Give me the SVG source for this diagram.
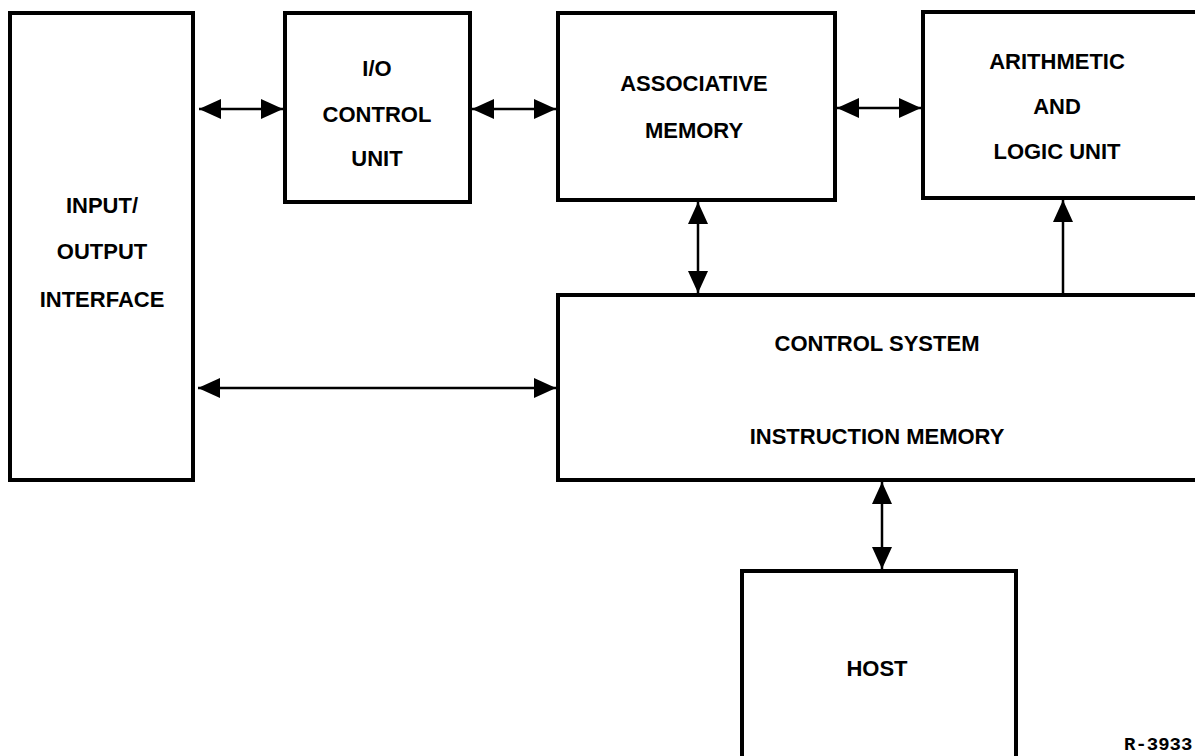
<svg xmlns="http://www.w3.org/2000/svg" width="1195" height="756" viewBox="0 0 1195 756">
  <defs>
    <marker id="head" viewBox="0 0 22 20" refX="22" refY="10" markerWidth="22" markerHeight="20" markerUnits="userSpaceOnUse" orient="auto-start-reverse">
      <path d="M0,0 L22,10 L0,20 Z" fill="#000"/>
    </marker>
    <style>
      .box { fill: #fff; stroke: #000; stroke-width: 4; }
      .lbl { font-family: "Liberation Sans", Arial, sans-serif; font-size: 22px; font-weight: bold; text-anchor: middle; fill: #000; }
      .wire { fill: none; stroke: #000; stroke-width: 2.5; }
      .both { marker-start: url(#head); marker-end: url(#head); }
      .one { marker-end: url(#head); }
      .ref { font-family: "Liberation Mono", "Courier New", monospace; font-size: 19px; font-weight: bold; fill: #000; }
    </style>
  </defs>
  <rect width="1195" height="756" fill="#fff"/>

  <g id="io-interface">
    <rect class="box" x="10" y="13" width="183" height="467"/>
    <text class="lbl" x="102" y="213">INPUT/</text>
    <text class="lbl" x="102" y="259">OUTPUT</text>
    <text class="lbl" x="102" y="307">INTERFACE</text>
  </g>

  <g id="io-control">
    <rect class="box" x="285" y="13" width="185" height="189"/>
    <text class="lbl" x="377" y="76">I/O</text>
    <text class="lbl" x="377" y="122">CONTROL</text>
    <text class="lbl" x="377" y="166">UNIT</text>
  </g>

  <g id="assoc-memory">
    <rect class="box" x="558" y="13" width="277" height="187"/>
    <text class="lbl" x="694" y="91">ASSOCIATIVE</text>
    <text class="lbl" x="694" y="138">MEMORY</text>
  </g>

  <g id="alu">
    <rect class="box" x="923" y="12" width="285" height="186"/>
    <text class="lbl" x="1057" y="69">ARITHMETIC</text>
    <text class="lbl" x="1057" y="114">AND</text>
    <text class="lbl" x="1057" y="159">LOGIC UNIT</text>
  </g>

  <g id="control-system">
    <rect class="box" x="558" y="295" width="650" height="185"/>
    <text class="lbl" x="877" y="351">CONTROL SYSTEM</text>
    <text class="lbl" x="877" y="444">INSTRUCTION MEMORY</text>
  </g>

  <g id="host">
    <rect class="box" x="742" y="571" width="274" height="200"/>
    <text class="lbl" x="877" y="676">HOST</text>
  </g>

  <g id="connectors">
    <path class="wire both" d="M199,109 L283,109"/>
    <path class="wire both" d="M472,109 L556,109"/>
    <path class="wire both" d="M837,108 L921,108"/>
    <path class="wire both" d="M698,202 L698,293"/>
    <path class="wire one" d="M1063,293 L1063,200"/>
    <path class="wire both" d="M198,388 L556,388"/>
    <path class="wire both" d="M882,482 L882,569"/>
  </g>

  <text class="ref" x="1124" y="750">R-3933</text>
</svg>
